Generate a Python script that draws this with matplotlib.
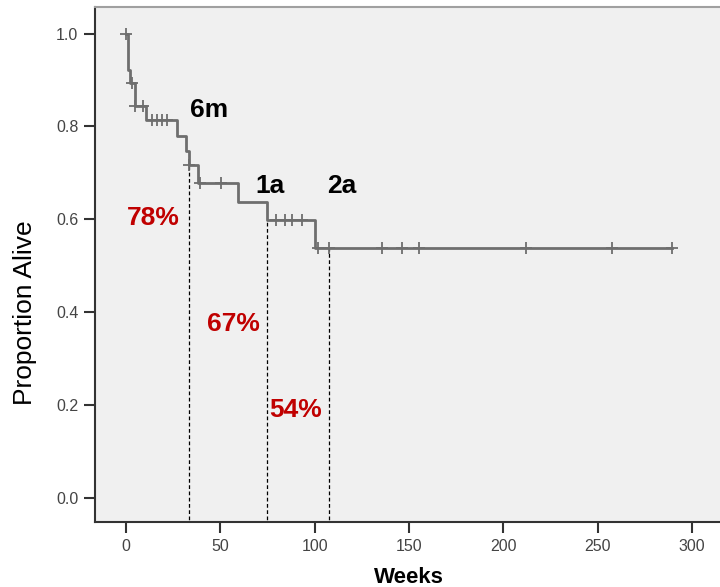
import numpy as np
import matplotlib
matplotlib.use('Agg')
import matplotlib.pyplot as plt

plt.rcParams['font.family'] = ['Liberation Sans', 'DejaVu Sans']

##------------data-----------------##
# survival step function: time of each drop (weeks) and proportion after it
step_weeks = [0, 1.0, 2.0, 5.0, 10.5, 27.2, 31.8, 33.2, 38.0, 59.5, 74.5, 100.2, 289.2]
step_surv = [1.0, 0.921, 0.894, 0.843, 0.814, 0.780, 0.746, 0.717, 0.679, 0.638, 0.598, 0.537, 0.537]

# censored observations (weeks)
censor_weeks = [0, 3.0, 5.0, 9.0, 13.6, 16.3, 18.9, 21.6, 33.5, 39.0, 50.6,
                79.5, 84.3, 87.8, 93.1, 101.9, 107.7, 135.5, 146.1, 155.4,
                212.0, 257.7, 289.2]

# reference lines: 6 months, 1 year, 2 years
mark_weeks = [33.4, 74.5, 107.7]
mark_top = [0.72, 0.598, 0.537]
mark_names = ['6m', '1a', '2a']
mark_pcts = ['78%', '67%', '54%']

##------------figure-----------------##
fig = plt.figure(figsize=(7.2, 5.87), dpi=100)
ax = fig.add_axes([0.132, 0.111, 0.868, 0.877])
ax.set_facecolor('#f0f0f0')

ax.step(step_weeks, step_surv, where='post', color='#6e6e6e', lw=2.0, zorder=3)
idx = np.searchsorted(step_weeks, censor_weeks, side='right') - 1
censor_surv = np.array(step_surv)[idx]
ax.plot(censor_weeks, censor_surv, ls='none', marker='+', ms=8, mew=1.3,
        color='#6e6e6e', zorder=4)

for w, top in zip(mark_weeks, mark_top):
    ax.plot([w, w], [-0.06, top], color='black', lw=0.9, ls=(0, (3, 2)), zorder=2)

# labels
ax.text(43.9, 0.835, mark_names[0], ha='center', va='center', fontsize=19, fontweight='bold')
ax.text(76.3, 0.672, mark_names[1], ha='center', va='center', fontsize=19, fontweight='bold')
ax.text(114.5, 0.672, mark_names[2], ha='center', va='center', fontsize=19, fontweight='bold')
red = '#c00000'
ax.text(14.3, 0.603, mark_pcts[0], ha='center', va='center', fontsize=19, fontweight='bold', color=red)
ax.text(57.2, 0.375, mark_pcts[1], ha='center', va='center', fontsize=19, fontweight='bold', color=red)
ax.text(90.0, 0.19, mark_pcts[2], ha='center', va='center', fontsize=19, fontweight='bold', color=red)

ax.set_xlim(-16.4, 314.8)
ax.set_ylim(-0.052, 1.057)
ax.set_xticks([0, 50, 100, 150, 200, 250, 300])
ax.set_yticks([0.0, 0.2, 0.4, 0.6, 0.8, 1.0])
ax.set_yticklabels(['0.0', '0.2', '0.4', '0.6', '0.8', '1.0'])
ax.tick_params(axis='both', direction='out', length=8, width=1.5, color='#333333',
               labelsize=11.5, labelcolor='#444444', pad=4)

for s in ['left', 'bottom']:
    ax.spines[s].set_color('#333333')
    ax.spines[s].set_linewidth(1.5)
ax.spines['top'].set_color('#a0a0a0')
ax.spines['top'].set_linewidth(1.5)
ax.spines['right'].set_visible(False)

fig.text(0.035, 0.468, 'Proportion Alive', rotation=90, ha='center', va='center', fontsize=19)
fig.text(0.568, 0.017, 'Weeks', ha='center', va='center', fontsize=16, fontweight='bold',
         family=['Liberation Sans Narrow', 'Liberation Sans'])

plt.savefig('out.png', dpi=100)
